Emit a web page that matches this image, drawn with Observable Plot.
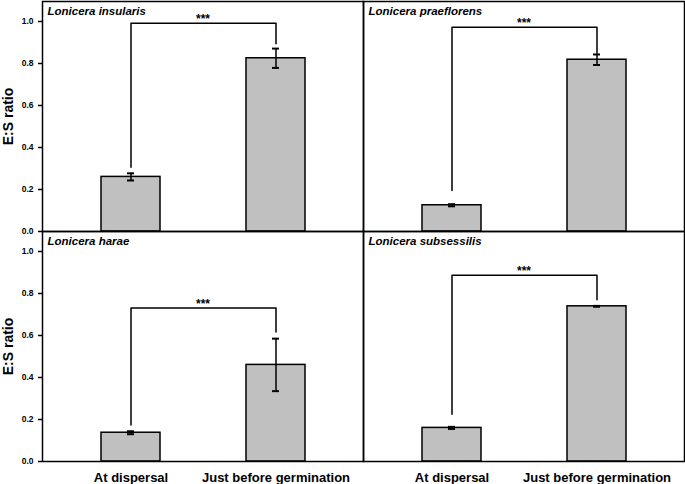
<!DOCTYPE html>
<html>
<head>
<meta charset="utf-8">
<script src="https://cdn.jsdelivr.net/npm/d3@7"></script>
<script src="https://cdn.jsdelivr.net/npm/@observablehq/plot@0.6"></script>
<style>
  body { margin: 0; background: #fff; }
  svg text { font-weight: bold; }
</style>
</head>
<body>
<div id="chart"></div>
<script>
// ---- data ----
const species = ["Lonicera insularis", "Lonicera praeflorens", "Lonicera harae", "Lonicera subsessilis"];
const panelCol = ["left", "right", "left", "right"];
const panelRow = ["top", "top", "bottom", "bottom"];
const stages = ["At dispersal", "Just before germination"];
const dispersalMean = [0.26, 0.125, 0.137, 0.16];
const dispersalSE = [0.017, 0.005, 0.007, 0.005];
const germinationMean = [0.825, 0.818, 0.46, 0.739];
const germinationSE = [0.046, 0.025, 0.125, 0.002];
const bracketTop = [0.992, 0.973, 0.731, 0.887];
const bracketLeftEnd = [0.306, 0.195, 0.174, 0.225];
const bracketRightEnd = [0.894, 0.849, 0.617, 0.77];
const significance = ["***", "***", "***", "***"];
const yTicks = [0, 0.2, 0.4, 0.6, 0.8, 1.0];
const yLabel = "E:S ratio";

// ---- tables built from the arrays ----
const panels = species.map((s, i) => ({species: s, col: panelCol[i], row: panelRow[i]}));
const bars = [];
panels.forEach((p, i) => {
  bars.push({...p, stage: stages[0], mean: dispersalMean[i], se: dispersalSE[i]});
  bars.push({...p, stage: stages[1], mean: germinationMean[i], se: germinationSE[i]});
});
const bracketPts = [];
panels.forEach((p, i) => {
  bracketPts.push({...p, stage: stages[0], v: bracketLeftEnd[i]});
  bracketPts.push({...p, stage: stages[0], v: bracketTop[i]});
  bracketPts.push({...p, stage: stages[1], v: bracketTop[i]});
  bracketPts.push({...p, stage: stages[1], v: bracketRightEnd[i]});
});
const stars = panels.map((p, i) => ({...p, v: bracketTop[i], label: significance[i]}));
const yLabels = panels.filter(p => p.col === "left").map(p => ({...p, label: yLabel}));

const fxy = {fx: "col", fy: "row"};

const chart = Plot.plot({
  width: 685,
  height: 484,
  marginLeft: 42,
  marginRight: 1,
  marginTop: 1,
  marginBottom: 23,
  style: {fontFamily: "'Liberation Sans', Arial, sans-serif", background: "#fff", overflow: "visible"},
  x: {domain: stages, paddingInner: 0.595, paddingOuter: 0.4},
  y: {domain: [0, 230 / 210]},
  fx: {domain: ["left", "right"], padding: 0, axis: null},
  fy: {domain: ["top", "bottom"], padding: 0, axis: null},
  marks: [
    Plot.barY(bars, {...fxy, x: "stage", y: "mean", fill: "#c0c0c0", stroke: "black", strokeWidth: 1.5}),
    Plot.ruleX(bars, {...fxy, x: "stage", y1: d => d.mean - d.se, y2: d => d.mean + d.se, stroke: "black", strokeWidth: 1.5}),
    Plot.tickY(bars, {...fxy, x: "stage", y: d => d.mean + d.se, stroke: "black", strokeWidth: 2, inset: 26}),
    Plot.tickY(bars, {...fxy, x: "stage", y: d => d.mean - d.se, stroke: "black", strokeWidth: 2, inset: 26}),
    Plot.line(bracketPts, {...fxy, x: "stage", y: "v", z: "species", stroke: "black", strokeWidth: 1.5}),
    Plot.text(stars, {...fxy, y: "v", text: "label", lineAnchor: "bottom", fontSize: 12}),
    Plot.text(panels, {...fxy, text: "species", frameAnchor: "top-left", textAnchor: "start", lineAnchor: "top", dx: 5, dy: 5, fontSize: 11.5, fontStyle: "italic"}),
    Plot.text(yLabels, {...fxy, text: "label", frameAnchor: "left", textAnchor: "middle", rotate: -90, dx: -34, fontSize: 14}),
    Plot.axisY({ticks: yTicks, tickFormat: d3.format(".1f"), tickSize: 4, tickPadding: 5, fontSize: 8.5, label: null, facetAnchor: "left", strokeWidth: 1.5}),
    Plot.axisX({tickSize: 0, tickPadding: 11, fontSize: 13, label: null, facetAnchor: "bottom"}),
    Plot.frame({stroke: "black", strokeWidth: 1.5})
  ]
});
document.getElementById("chart").appendChild(chart);
</script>
</body>
</html>
